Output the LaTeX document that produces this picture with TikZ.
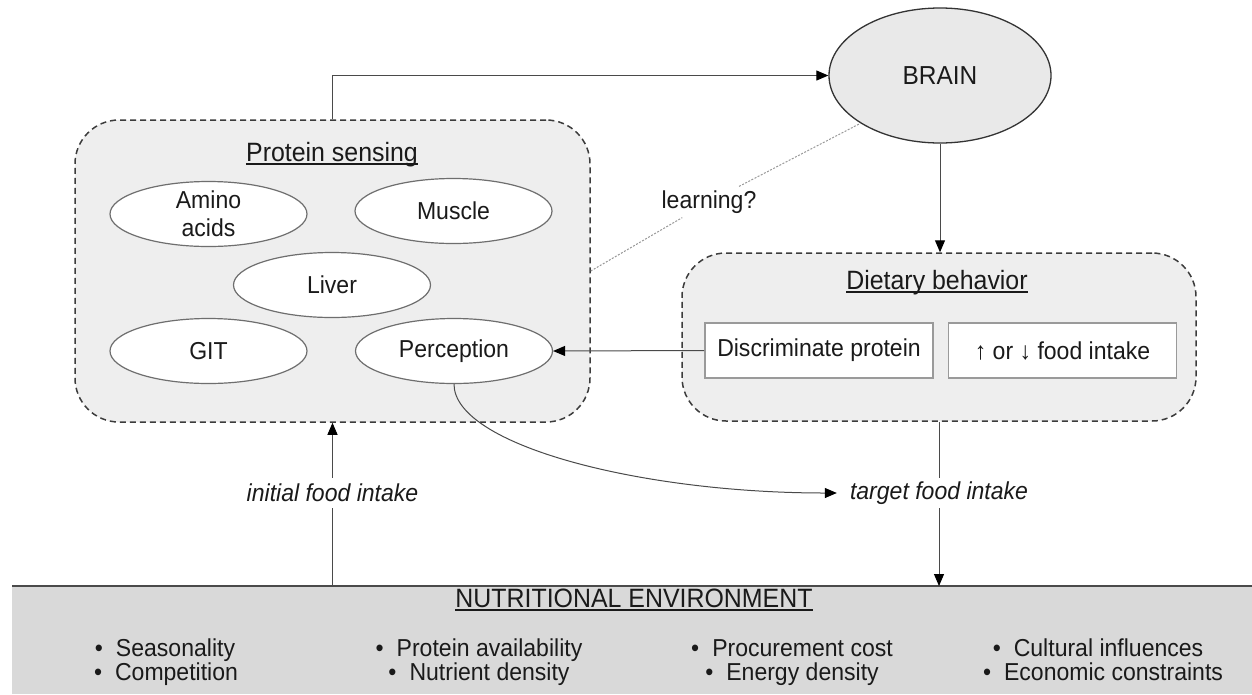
\documentclass[tikz,border=0pt]{standalone}
\usepackage{fontspec}
\setmainfont{Liberation Sans}
\newfontfamily\condf[FakeStretch=0.94]{Liberation Sans}
\usetikzlibrary{shapes.geometric,arrows.meta}
\definecolor{boxfill}{HTML}{EEEEEE}
\definecolor{brainfill}{HTML}{E9E9E9}
\definecolor{envfill}{HTML}{D9D9D9}
\definecolor{dashc}{HTML}{3C3C3C}
\definecolor{ellc}{HTML}{6E6E6E}
\definecolor{rectc}{HTML}{9A9A9A}
\definecolor{linec}{HTML}{4A4A4A}
\definecolor{txt}{HTML}{1A1A1A}
\newcommand\fsn{\condf\fontsize{24.5}{28}\selectfont}
\newcommand\fst{\condf\fontsize{26.5}{30}\selectfont}
\tikzset{
 conn/.style={draw=linec, line width=1pt},
 arr/.style={conn, -{Triangle[length=12pt,width=10pt,color=black]}},
 dbox/.style={rectangle, draw=dashc, line width=1.5pt, dash pattern=on 6pt off 4pt, fill=boxfill, rounded corners=44pt, inner sep=0pt},
 ell/.style={ellipse, draw=ellc, line width=1.2pt, fill=white, minimum width=197pt, minimum height=65pt, inner sep=0pt, font=\fsn, text=txt},
 rbox/.style={rectangle, draw=rectc, line width=1.6pt, fill=white, minimum width=228pt, minimum height=55pt, inner sep=0pt, font=\fsn, text=txt},
 lbl/.style={font=\fsn\itshape, text=txt, inner xsep=13pt, inner ysep=0pt, minimum height=30pt},
 ttl/.style={font=\fst, text=txt, anchor=base, inner sep=0pt},
 bl/.style={font=\fsn, text=txt, anchor=base, inner sep=0pt},
 ul/.style={draw=txt, line width=1.1pt},
 dotl/.style={draw=gray!80, line width=1pt, dash pattern=on 2pt off 1.5pt},
}
\begin{document}
\begin{tikzpicture}[x=1pt,y=-1pt]
\useasboundingbox (0,0) rectangle (1252,694);

% containers
\node[dbox, minimum width=515pt, minimum height=302pt] (ps) at (332.5,271) {};
\node[dbox, minimum width=514pt, minimum height=168pt] (db) at (939,337) {};
\node[rectangle, fill=envfill, minimum width=1240pt, minimum height=108pt, inner sep=0pt, anchor=north west] (env) at (12,586) {};
\draw[line width=2pt, draw=linec] (env.north west) -- (env.north east);

% titles
\node[ttl] (pst) at (332,161) {Protein sensing};
\draw[ul] ([yshift=-3pt]pst.base west) -- ([yshift=-3pt]pst.base east);
\node[ttl] (dbt) at (937,289) {Dietary behavior};
\draw[ul] ([yshift=-3pt]dbt.base west) -- ([yshift=-3pt]dbt.base east);
\node[ttl] (envt) at (634,607) {NUTRITIONAL ENVIRONMENT};
\draw[ul] ([yshift=-3pt]envt.base west) -- ([yshift=-3pt]envt.base east);

% brain
\node[ellipse, draw=black!80, line width=1.3pt, fill=brainfill, minimum width=222pt, minimum height=135pt, inner sep=0pt, font=\condf\fontsize{26}{30}\selectfont, text=txt] (brain) at (940,75.5) {BRAIN};

% protein sensing ellipses
\node[ell, label={[font=\fsn, text=txt, align=center, inner sep=0pt]center:Amino\\acids}] (amino) at (208.5,214) {};
\node[ell] (muscle) at (453.5,211) {Muscle};
\node[ell] (liver) at (332,285) {Liver};
\node[ell] (git) at (208.5,351) {GIT};
\node[ell] (perc) at (454,351) {Perception};

% dietary boxes
\node[rbox] (disc) at (819,350.5) {Discriminate protein};
\node[rbox] (updown) at (1062.5,350.5) {↑ or ↓ food intake};

% labels
\node[lbl] (init) at (332.5,493) {initial food intake};
\node[lbl] (target) at (939,493) {target food intake};
\node[font=\fsn, text=txt, inner sep=4pt] (learn) at (709,202) {learning?};

% connectors
\draw[arr] (ps.north) |- (brain.west);
\draw[arr] (brain.south) -- (brain.south |- db.north);
\draw[dotl] (ps.east) -- (learn);
\draw[dotl] (learn) -- (brain.211);
\draw[arr] (disc.west) -- (perc.east);
\draw[arr] (perc.south) .. controls (454,445) and (640,493) .. (target.west);
\draw[conn] (target.north |- db.south) -- (target.north);
\draw[arr] (target.south) -- (target.south |- env.north);
\draw[conn] (init.south |- env.north) -- (init.south);
\draw[arr] (init.north) -- (init.north |- ps.south);

% environment bullets
\node[bl] (b1a) at (165,656) {•\hspace{13pt}Seasonality};
\node[bl] (b1b) at (166,680) {•\hspace{13pt}Competition};
\node[bl] (b2a) at (479,656) {•\hspace{13pt}Protein availability};
\node[bl] (b2b) at (479,680) {•\hspace{13pt}Nutrient density};
\node[bl] (b3a) at (792,656) {•\hspace{13pt}Procurement cost};
\node[bl] (b3b) at (792,680) {•\hspace{13pt}Energy density};
\node[bl] (b4a) at (1098,656) {•\hspace{13pt}Cultural influences};
\node[bl] (b4b) at (1103,680) {•\hspace{13pt}Economic constraints};
\end{tikzpicture}
\end{document}
